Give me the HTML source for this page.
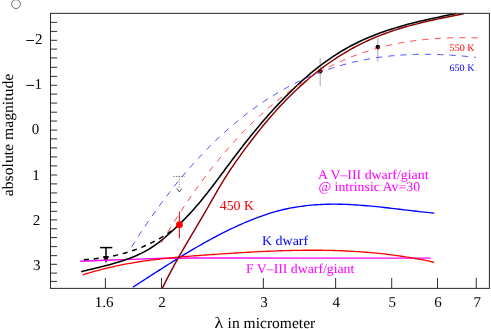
<!DOCTYPE html>
<html><head><meta charset="utf-8"><title>chart</title>
<style>html,body{margin:0;padding:0;background:#fff;width:491px;height:329px;overflow:hidden;font-family:"Liberation Serif",serif}</style>
</head><body>
<svg width="491" height="329" viewBox="0 0 491 329" style="position:absolute;left:0;top:0;font-family:'Liberation Serif',serif;text-rendering:geometricPrecision;will-change:transform">
<defs><clipPath id="c"><rect x="50.50" y="13.05" width="438.90" height="275.65"/></clipPath></defs>
<rect x="0" y="0" width="491" height="329" fill="#fff"/>
<circle cx="16" cy="4.1" r="4.4" fill="none" stroke="#555" stroke-width="0.85"/>
<g stroke="#000" stroke-width="1.5" fill="#000"><line x1="100.1" y1="247.6" x2="112.3" y2="247.6"/><line x1="106" y1="247.6" x2="106" y2="257"/><path d="M103.1 256.0 L108.9 256.0 L106 263.3 Z" stroke="none"/></g>
<line x1="320.2" y1="58" x2="320.2" y2="86" stroke="#a8a8a8" stroke-width="1"/>
<circle cx="320.2" cy="71.3" r="2.3" fill="#000"/>
<line x1="377.8" y1="38.5" x2="377.8" y2="61.8" stroke="#a8a8a8" stroke-width="1"/>
<circle cx="377.8" cy="47.1" r="2.3" fill="#000"/>
<g fill="none" stroke-linecap="butt" stroke-linejoin="round" clip-path="url(#c)">
<path d="M80.10 261.20 L105.00 260.30 L130.00 259.40 L165.90 258.30 L200.00 258.05 L300.00 258.10 L430.70 258.10" stroke="#ff00ff" stroke-width="1.40"/>
<path d="M133.00 287.10 L135.51 285.48 L138.02 283.86 L140.53 282.24 L143.04 280.62 L145.55 279.00 L148.06 277.38 L150.58 275.76 L153.09 274.14 L155.60 272.53 L158.11 270.92 L160.62 269.32 L163.13 267.72 L165.64 266.13 L168.15 264.54 L170.66 262.96 L173.17 261.39 L175.68 259.83 L178.19 258.28 L180.71 256.74 L183.22 255.20 L185.73 253.68 L188.24 252.17 L190.75 250.68 L193.26 249.19 L195.77 247.72 L198.28 246.27 L200.79 244.83 L203.30 243.40 L205.81 241.99 L208.32 240.60 L210.84 239.23 L213.35 237.87 L215.86 236.53 L218.37 235.22 L220.88 233.92 L223.39 232.64 L225.90 231.39 L228.41 230.16 L230.92 228.95 L233.43 227.76 L235.94 226.60 L238.45 225.46 L240.97 224.34 L243.48 223.25 L245.99 222.18 L248.50 221.13 L251.01 220.11 L253.52 219.11 L256.03 218.14 L258.54 217.19 L261.05 216.28 L263.56 215.39 L266.07 214.53 L268.59 213.71 L271.10 212.92 L273.61 212.16 L276.12 211.45 L278.63 210.77 L281.14 210.14 L283.65 209.53 L286.16 208.97 L288.67 208.44 L291.18 207.95 L293.69 207.49 L296.20 207.06 L298.72 206.67 L301.23 206.31 L303.74 205.98 L306.25 205.68 L308.76 205.41 L311.27 205.17 L313.78 204.95 L316.29 204.77 L318.80 204.61 L321.31 204.48 L323.82 204.37 L326.33 204.29 L328.85 204.24 L331.36 204.20 L333.87 204.19 L336.38 204.20 L338.89 204.23 L341.40 204.28 L343.91 204.35 L346.42 204.44 L348.93 204.54 L351.44 204.67 L353.95 204.81 L356.46 204.96 L358.98 205.13 L361.49 205.32 L364.00 205.52 L366.51 205.73 L369.02 205.95 L371.53 206.18 L374.04 206.42 L376.55 206.67 L379.06 206.93 L381.57 207.20 L384.08 207.47 L386.59 207.75 L389.11 208.04 L391.62 208.32 L394.13 208.62 L396.64 208.91 L399.15 209.21 L401.66 209.51 L404.17 209.80 L406.68 210.10 L409.19 210.40 L411.70 210.69 L414.21 210.98 L416.72 211.27 L419.24 211.55 L421.75 211.83 L424.26 212.10 L426.77 212.36 L429.28 212.61 L431.79 212.86 L434.30 213.10" stroke="#0000ff" stroke-width="1.35"/>
<path d="M82.60 274.98 L85.11 274.19 L87.62 273.41 L90.13 272.66 L92.65 271.93 L95.16 271.22 L97.67 270.53 L100.18 269.86 L102.69 269.21 L105.20 268.58 L107.71 267.97 L110.23 267.38 L112.74 266.80 L115.25 266.24 L117.76 265.71 L120.27 265.18 L122.78 264.68 L125.29 264.19 L127.81 263.72 L130.32 263.27 L132.83 262.83 L135.34 262.41 L137.85 262.00 L140.36 261.61 L142.87 261.23 L145.39 260.87 L147.90 260.51 L150.41 260.18 L152.92 259.85 L155.43 259.54 L157.94 259.23 L160.45 258.94 L162.97 258.66 L165.48 258.39 L167.99 258.13 L170.50 257.87 L173.01 257.63 L175.52 257.39 L178.03 257.16 L180.55 256.94 L183.06 256.72 L185.57 256.51 L188.08 256.31 L190.59 256.11 L193.10 255.92 L195.61 255.73 L198.13 255.54 L200.64 255.36 L203.15 255.18 L205.66 255.00 L208.17 254.82 L210.68 254.65 L213.19 254.48 L215.71 254.30 L218.22 254.13 L220.73 253.96 L223.24 253.79 L225.75 253.63 L228.26 253.46 L230.77 253.30 L233.29 253.14 L235.80 252.98 L238.31 252.83 L240.82 252.68 L243.33 252.53 L245.84 252.38 L248.35 252.24 L250.87 252.10 L253.38 251.97 L255.89 251.84 L258.40 251.71 L260.91 251.58 L263.42 251.46 L265.93 251.35 L268.45 251.24 L270.96 251.13 L273.47 251.03 L275.98 250.94 L278.49 250.85 L281.00 250.76 L283.51 250.68 L286.03 250.61 L288.54 250.54 L291.05 250.48 L293.56 250.43 L296.07 250.38 L298.58 250.33 L301.09 250.30 L303.61 250.27 L306.12 250.25 L308.63 250.23 L311.14 250.23 L313.65 250.23 L316.16 250.24 L318.67 250.25 L321.19 250.27 L323.70 250.31 L326.21 250.35 L328.72 250.40 L331.23 250.45 L333.74 250.52 L336.25 250.60 L338.77 250.68 L341.28 250.77 L343.79 250.88 L346.30 250.99 L348.81 251.11 L351.32 251.25 L353.83 251.39 L356.35 251.54 L358.86 251.71 L361.37 251.88 L363.88 252.07 L366.39 252.26 L368.90 252.47 L371.41 252.69 L373.93 252.92 L376.44 253.16 L378.95 253.41 L381.46 253.68 L383.97 253.96 L386.48 254.25 L388.99 254.55 L391.51 254.86 L394.02 255.19 L396.53 255.53 L399.04 255.88 L401.55 256.25 L404.06 256.63 L406.57 257.02 L409.09 257.43 L411.60 257.85 L414.11 258.29 L416.62 258.74 L419.13 259.20 L421.64 259.68 L424.15 260.17 L426.67 260.68 L429.18 261.20 L431.69 261.74 L434.20 262.30" stroke="#ff0000" stroke-width="1.30"/>
<path d="M162.10 288.68 L164.61 283.60 L167.13 278.65 L169.64 273.82 L172.15 269.09 L174.67 264.46 L177.18 259.91 L179.69 255.43 L182.21 251.02 L184.72 246.67 L187.23 242.36 L189.75 238.08 L192.26 233.83 L194.77 229.59 L197.29 225.35 L199.80 221.11 L202.31 216.85 L204.83 212.57 L207.34 208.24 L209.85 203.88 L212.37 199.47 L214.88 195.06 L217.39 190.68 L219.91 186.36 L222.42 182.13 L224.93 178.02 L227.45 174.07 L229.96 170.27 L232.47 166.57 L234.99 162.94 L237.50 159.37 L240.01 155.84 L242.53 152.37 L245.04 148.94 L247.55 145.56 L250.07 142.22 L252.58 138.94 L255.09 135.71 L257.61 132.52 L260.12 129.39 L262.63 126.30 L265.15 123.26 L267.66 120.28 L270.17 117.34 L272.69 114.46 L275.20 111.63 L277.71 108.84 L280.23 106.11 L282.74 103.43 L285.25 100.81 L287.77 98.23 L290.28 95.71 L292.79 93.23 L295.31 90.81 L297.82 88.44 L300.33 86.12 L302.85 83.84 L305.36 81.62 L307.87 79.45 L310.39 77.32 L312.90 75.24 L315.41 73.21 L317.93 71.22 L320.44 69.28 L322.95 67.38 L325.47 65.53 L327.98 63.73 L330.49 61.97 L333.01 60.25 L335.52 58.57 L338.03 56.94 L340.55 55.35 L343.06 53.80 L345.57 52.29 L348.09 50.82 L350.60 49.39 L353.11 48.00 L355.63 46.65 L358.14 45.34 L360.65 44.07 L363.17 42.84 L365.68 41.64 L368.19 40.47 L370.71 39.35 L373.22 38.26 L375.73 37.20 L378.25 36.18 L380.76 35.18 L383.27 34.22 L385.79 33.29 L388.30 32.39 L390.81 31.51 L393.33 30.66 L395.84 29.84 L398.35 29.05 L400.87 28.27 L403.38 27.52 L405.89 26.79 L408.41 26.08 L410.92 25.40 L413.43 24.73 L415.95 24.08 L418.46 23.44 L420.97 22.82 L423.49 22.22 L426.00 21.63 L428.51 21.05 L431.03 20.48 L433.54 19.92 L436.05 19.38 L438.57 18.84 L441.08 18.31 L443.59 17.79 L446.11 17.27 L448.62 16.76 L451.13 16.25 L453.65 15.74 L456.16 15.23 L458.67 14.73 L461.19 14.22 L463.70 13.72" stroke="#8b0000" stroke-width="1.45"/>
<path d="M83.90 259.80 L86.43 259.61 L88.96 259.39 L91.49 259.15 L94.03 258.88 L96.56 258.59 L99.09 258.27 L101.62 257.92 L104.15 257.53 L106.68 257.12 L109.21 256.67 L111.75 256.19 L114.28 255.67 L116.81 255.11 L119.34 254.51 L121.87 253.87 L124.40 253.18 L126.93 252.46 L129.47 251.68 L132.00 250.86 L134.53 249.99 L137.06 249.07 L139.59 248.10 L142.12 247.08 L144.65 246.00 L147.19 244.87 L149.72 243.68 L152.25 242.43 L154.78 241.12 L157.31 239.74 L159.84 238.31 L162.37 236.81 L164.91 235.24 L167.44 233.61 L169.97 231.90 L172.50 230.13" stroke="#000" stroke-width="1.5" stroke-dasharray="5.05 4.78"/>
<path d="M81.10 271.69 L83.60 271.06 L86.10 270.45 L88.60 269.85 L91.10 269.25 L93.60 268.65 L96.10 268.05 L98.60 267.45 L101.10 266.83 L103.60 266.21 L106.10 265.57 L108.60 264.92 L111.10 264.24 L113.60 263.54 L116.10 262.82 L118.60 262.06 L121.10 261.27 L123.60 260.45 L126.10 259.59 L128.60 258.68 L131.10 257.73 L133.60 256.73 L136.10 255.68 L138.60 254.56 L141.10 253.37 L143.60 252.11 L146.10 250.76 L148.60 249.32 L151.10 247.77 L153.60 246.13 L156.10 244.37 L158.60 242.52 L161.10 240.57 L163.60 238.54 L166.10 236.44 L168.60 234.27 L171.10 232.04 L173.60 229.75 L176.10 227.41 L178.60 225.03 L181.10 222.59 L183.60 220.09 L186.10 217.53 L188.60 214.91 L191.10 212.21 L193.60 209.44 L196.10 206.60 L198.60 203.67 L201.10 200.67 L203.60 197.60 L206.10 194.47 L208.60 191.28 L211.10 188.05 L213.60 184.77 L216.10 181.47 L218.60 178.14 L221.10 174.79 L223.60 171.42 L226.10 168.06 L228.60 164.70 L231.10 161.34 L233.60 158.01 L236.10 154.70 L238.60 151.42 L241.10 148.18 L243.60 144.97 L246.10 141.79 L248.60 138.66 L251.10 135.55 L253.60 132.48 L256.10 129.45 L258.60 126.46 L261.10 123.50 L263.60 120.58 L266.10 117.70 L268.60 114.86 L271.10 112.06 L273.60 109.30 L276.10 106.57 L278.60 103.89 L281.10 101.25 L283.60 98.65 L286.10 96.10 L288.60 93.59 L291.10 91.11 L293.60 88.69 L296.10 86.31 L298.60 83.97 L301.10 81.67 L303.60 79.43 L306.10 77.22 L308.60 75.07 L311.10 72.96 L313.60 70.90 L316.10 68.88 L318.60 66.92 L321.10 65.00 L323.60 63.13 L326.10 61.31 L328.60 59.54 L331.10 57.83 L333.60 56.16 L336.10 54.54 L338.60 52.97 L341.10 51.44 L343.60 49.97 L346.10 48.53 L348.60 47.14 L351.10 45.80 L353.60 44.49 L356.10 43.23 L358.60 42.00 L361.10 40.82 L363.60 39.67 L366.10 38.56 L368.60 37.48 L371.10 36.43 L373.60 35.42 L376.10 34.44 L378.60 33.49 L381.10 32.58 L383.60 31.69 L386.10 30.82 L388.60 29.99 L391.10 29.18 L393.60 28.39 L396.10 27.63 L398.60 26.89 L401.10 26.17 L403.60 25.46 L406.10 24.78 L408.60 24.12 L411.10 23.47 L413.60 22.84 L416.10 22.22 L418.60 21.62 L421.10 21.03 L423.60 20.45 L426.10 19.88 L428.60 19.32 L431.10 18.77 L433.60 18.22 L436.10 17.68 L438.60 17.15 L441.10 16.62 L443.60 16.09 L446.10 15.56 L448.60 15.03 L451.10 14.51 L453.60 13.98 L456.10 13.45" stroke="#000" stroke-width="1.55"/>
<path d="M131.60 246.78 L134.11 242.82 L136.62 238.91 L139.14 235.05 L141.65 231.25 L144.16 227.49 L146.67 223.79 L149.18 220.13 L151.69 216.53 L154.21 212.97 L156.72 209.47 L159.23 206.01 L161.74 202.60 L164.25 199.24 L166.76 195.93 L169.28 192.66 L171.79 189.45 L174.30 186.28 L176.81 183.15 L179.32 180.08 L181.83 177.05 L184.35 174.06 L186.86 171.12 L189.37 168.23 L191.88 165.38 L194.39 162.57 L196.90 159.81 L199.42 157.10 L201.93 154.43 L204.44 151.80 L206.95 149.21 L209.46 146.67 L211.97 144.17 L214.49 141.71 L217.00 139.29 L219.51 136.91 L222.02 134.58 L224.53 132.29 L227.04 130.03 L229.56 127.82 L232.07 125.65 L234.58 123.51 L237.09 121.42 L239.60 119.36 L242.11 117.35 L244.63 115.37 L247.14 113.43 L249.65 111.53 L252.16 109.66 L254.67 107.84 L257.18 106.05 L259.70 104.29 L262.21 102.58 L264.72 100.89 L267.23 99.25 L269.74 97.64 L272.25 96.06 L274.77 94.52 L277.28 93.01 L279.79 91.54 L282.30 90.10 L284.81 88.70 L287.32 87.32 L289.84 85.98 L292.35 84.68 L294.86 83.40 L297.37 82.16 L299.88 80.95 L302.39 79.77 L304.91 78.62 L307.42 77.50 L309.93 76.42 L312.44 75.36 L314.95 74.33 L317.46 73.34 L319.98 72.37 L322.49 71.43 L325.00 70.52 L327.51 69.64 L330.02 68.78 L332.53 67.96 L335.05 67.16 L337.56 66.39 L340.07 65.65 L342.58 64.93 L345.09 64.24 L347.60 63.57 L350.12 62.94 L352.63 62.32 L355.14 61.73 L357.65 61.17 L360.16 60.63 L362.67 60.12 L365.19 59.63 L367.70 59.16 L370.21 58.72 L372.72 58.30 L375.23 57.90 L377.74 57.53 L380.26 57.18 L382.77 56.85 L385.28 56.54 L387.79 56.25 L390.30 55.98 L392.81 55.74 L395.33 55.51 L397.84 55.31 L400.35 55.12 L402.86 54.96 L405.37 54.81 L407.88 54.69 L410.40 54.58 L412.91 54.49 L415.42 54.42 L417.93 54.36 L420.44 54.33 L422.95 54.31 L425.47 54.30 L427.98 54.32 L430.49 54.35 L433.00 54.40 L435.51 54.46 L438.02 54.54 L440.54 54.63 L443.05 54.74 L445.56 54.86 L448.07 55.00 L450.58 55.15 L453.09 55.31 L455.61 55.49 L458.12 55.68 L460.63 55.88 L463.14 56.10 L465.65 56.33 L468.16 56.57 L470.68 56.82 L473.19 57.09 L475.70 57.36" stroke="#3030ff" stroke-width="0.85" stroke-dasharray="6.2 6.08"/>
<path d="M161.50 242.59 L164.01 238.36 L166.52 234.19 L169.04 230.07 L171.55 226.01 L174.06 222.00 L176.57 218.05 L179.08 214.15 L181.60 210.31 L184.11 206.52 L186.62 202.78 L189.13 199.09 L191.64 195.46 L194.15 191.88 L196.67 188.36 L199.18 184.88 L201.69 181.45 L204.20 178.08 L206.71 174.76 L209.23 171.48 L211.74 168.26 L214.25 165.09 L216.76 161.96 L219.27 158.89 L221.79 155.86 L224.30 152.88 L226.81 149.95 L229.32 147.07 L231.83 144.23 L234.35 141.44 L236.86 138.69 L239.37 136.00 L241.88 133.34 L244.39 130.74 L246.90 128.17 L249.42 125.66 L251.93 123.18 L254.44 120.75 L256.95 118.37 L259.46 116.03 L261.98 113.73 L264.49 111.47 L267.00 109.25 L269.51 107.08 L272.02 104.95 L274.54 102.86 L277.05 100.81 L279.56 98.80 L282.07 96.83 L284.58 94.90 L287.10 93.01 L289.61 91.16 L292.12 89.34 L294.63 87.57 L297.14 85.83 L299.65 84.14 L302.17 82.47 L304.68 80.85 L307.19 79.26 L309.70 77.71 L312.21 76.19 L314.73 74.71 L317.24 73.27 L319.75 71.86 L322.26 70.48 L324.77 69.14 L327.29 67.83 L329.80 66.56 L332.31 65.32 L334.82 64.11 L337.33 62.93 L339.85 61.79 L342.36 60.67 L344.87 59.59 L347.38 58.54 L349.89 57.52 L352.40 56.53 L354.92 55.57 L357.43 54.64 L359.94 53.74 L362.45 52.87 L364.96 52.03 L367.48 51.21 L369.99 50.43 L372.50 49.67 L375.01 48.94 L377.52 48.23 L380.04 47.55 L382.55 46.90 L385.06 46.27 L387.57 45.67 L390.08 45.09 L392.60 44.54 L395.11 44.01 L397.62 43.51 L400.13 43.03 L402.64 42.57 L405.15 42.14 L407.67 41.73 L410.18 41.34 L412.69 40.97 L415.20 40.63 L417.71 40.30 L420.23 40.00 L422.74 39.72 L425.25 39.46 L427.76 39.21 L430.27 38.99 L432.79 38.79 L435.30 38.60 L437.81 38.43 L440.32 38.28 L442.83 38.15 L445.35 38.04 L447.86 37.94 L450.37 37.86 L452.88 37.80 L455.39 37.75 L457.90 37.72 L460.42 37.70 L462.93 37.70 L465.44 37.72 L467.95 37.74 L470.46 37.78 L472.98 37.84 L475.49 37.91 L478.00 37.99" stroke="#ff2828" stroke-width="0.85" stroke-dasharray="6.2 6.08"/>
</g>
<line x1="179.4" y1="211.4" x2="179.4" y2="238.6" stroke="#ff0000" stroke-width="1"/>
<circle cx="179.4" cy="224.7" r="3.4" fill="#ff0000"/>
<g stroke="#444" stroke-width="0.7" fill="none"><line x1="173.3" y1="176.4" x2="184.6" y2="176.4" stroke-dasharray="1.4 1.2"/><line x1="179.3" y1="176.4" x2="179.3" y2="188.5" stroke-dasharray="1.1 1.4"/><path d="M176.9 188.5 L179.3 192.0 L181.7 188.5" stroke="#2a2a2a" stroke-width="0.8" stroke-linejoin="miter"/></g>
<rect x="50.50" y="13.35" width="438.90" height="275.05" fill="none" stroke="#303030" stroke-width="1.05"/>
<path d="M50.50 22.35 h6.6 M50.50 31.40 h6.6 M50.50 40.30 h6.6 M50.50 49.10 h6.6 M50.50 57.90 h6.6 M50.50 67.30 h6.6 M50.50 76.40 h6.6 M50.50 85.25 h6.6 M50.50 94.10 h6.6 M50.50 103.09 h6.6 M50.50 112.20 h6.6 M50.50 121.05 h6.6 M50.50 130.10 h6.6 M50.50 138.85 h6.6 M50.50 147.90 h6.6 M50.50 156.91 h6.6 M50.50 165.88 h6.6 M50.50 175.00 h6.6 M50.50 183.90 h6.6 M50.50 192.95 h6.6 M50.50 202.40 h6.6 M50.50 211.30 h6.6 M50.50 219.85 h6.6 M50.50 228.75 h6.6 M50.50 237.60 h6.6 M50.50 246.61 h6.6 M50.50 255.65 h6.6 M50.50 264.30 h6.6 M50.50 273.10 h6.6 M50.50 281.40 h6.6 M105.40 288.40 v-10.4 M161.47 288.40 v-10.4 M263.35 288.40 v-10.4 M335.63 288.40 v-10.4 M391.70 288.40 v-10.4 M437.51 288.40 v-10.4 M476.25 288.40 v-10.4" stroke="#303030" stroke-width="1" fill="none"/>
<path d="M26.3 40.5 H34.1 M26.3 85.4 H34.1" stroke="#111" stroke-width="1" fill="none"/>
<text transform="translate(35.00,44.40) scale(1.0000,1)" font-size="15.00px" fill="#000" text-anchor="start">2</text>
<text transform="translate(34.60,89.30) scale(1.0000,1)" font-size="15.00px" fill="#000" text-anchor="start">1</text>
<text transform="translate(35.40,134.00) scale(1.0000,1)" font-size="15.00px" fill="#000" text-anchor="middle">0</text>
<text transform="translate(35.90,179.50) scale(1.0000,1)" font-size="15.00px" fill="#000" text-anchor="middle">1</text>
<text transform="translate(36.50,224.60) scale(1.0000,1)" font-size="15.00px" fill="#000" text-anchor="middle">2</text>
<text transform="translate(36.80,270.00) scale(1.0000,1)" font-size="15.00px" fill="#000" text-anchor="middle">3</text>
<text transform="translate(104.10,307.00) scale(1.0000,1)" font-size="15.00px" fill="#000" text-anchor="middle">1.6</text>
<text transform="translate(161.97,307.00) scale(1.0000,1)" font-size="15.00px" fill="#000" text-anchor="middle">2</text>
<text transform="translate(263.95,307.00) scale(1.0000,1)" font-size="15.00px" fill="#000" text-anchor="middle">3</text>
<text transform="translate(336.13,307.00) scale(1.0000,1)" font-size="15.00px" fill="#000" text-anchor="middle">4</text>
<text transform="translate(392.20,307.00) scale(1.0000,1)" font-size="15.00px" fill="#000" text-anchor="middle">5</text>
<text transform="translate(438.11,307.00) scale(1.0000,1)" font-size="15.00px" fill="#000" text-anchor="middle">6</text>
<text transform="translate(477.15,307.00) scale(1.0000,1)" font-size="15.00px" fill="#000" text-anchor="middle">7</text>
<text transform="translate(214.50,327.80) scale(1.1300,1)" font-size="16.00px" fill="#000" text-anchor="start">λ</text>
<text transform="translate(227.60,327.80) scale(1.0160,1)" font-size="15.30px" fill="#000" text-anchor="start">in micrometer</text>
<text transform="translate(12.6,196.2) rotate(-90) scale(1.012,1)" font-size="15.5px" fill="#000" text-anchor="start">absolute magnitude</text>
<text transform="translate(449.60,50.70) scale(1.0350,1)" font-size="9.80px" fill="#ff0000" text-anchor="start">550 K</text>
<text transform="translate(449.40,71.40) scale(1.0350,1)" font-size="9.80px" fill="#0000ff" text-anchor="start">650 K</text>
<text transform="translate(219.70,209.70) scale(1.0200,1)" font-size="13.60px" fill="#ff0000" text-anchor="start">450 K</text>
<text transform="translate(318.00,179.00) scale(1.0340,1)" font-size="13.40px" fill="#ff00ff" text-anchor="start">A V–III dwarf/giant</text>
<text transform="translate(318.40,191.30) scale(1.0320,1)" font-size="13.40px" fill="#ff00ff" text-anchor="start">@ intrinsic Av=30</text>
<text transform="translate(261.90,245.40) scale(1.0460,1)" font-size="13.40px" fill="#0000ff" text-anchor="start">K dwarf</text>
<text transform="translate(246.00,273.40) scale(1.0280,1)" font-size="13.40px" fill="#ff00ff" text-anchor="start">F V–III dwarf/giant</text>
</svg>
</body></html>
